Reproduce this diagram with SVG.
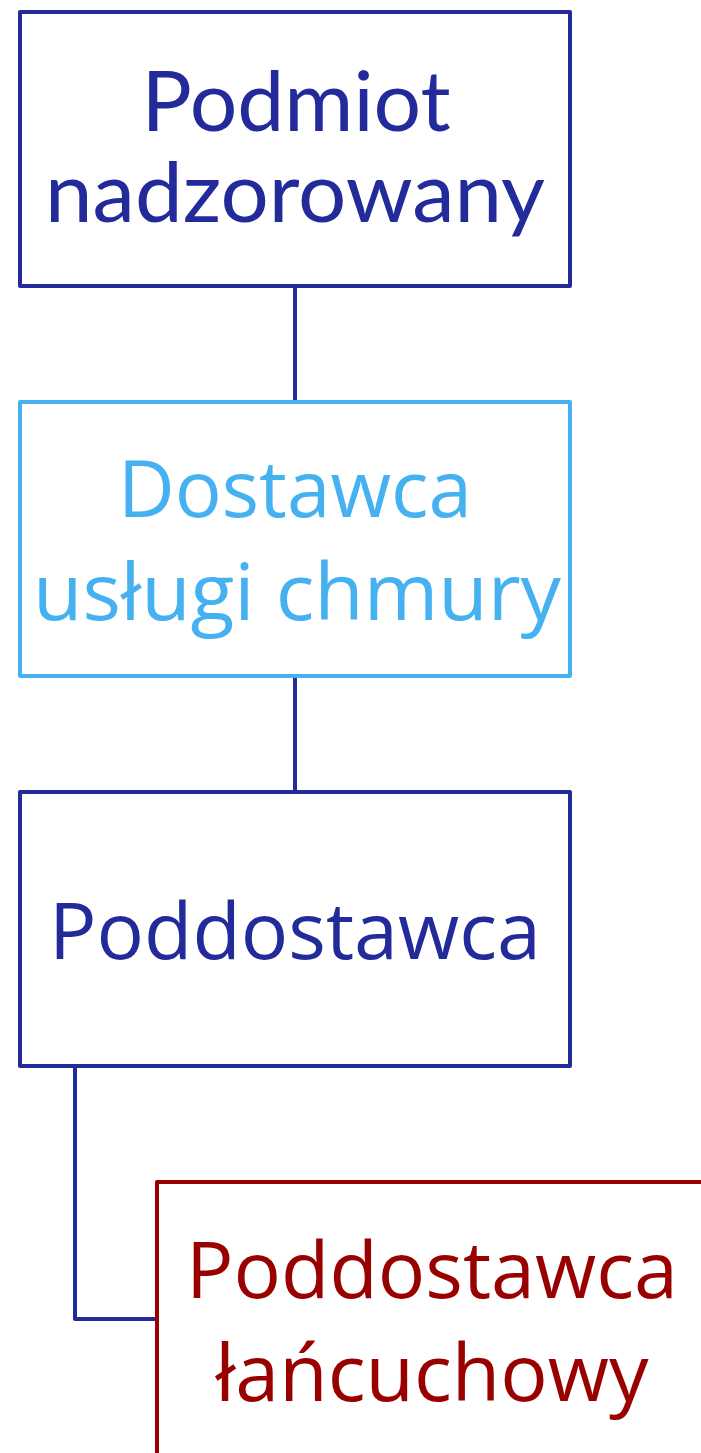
<svg xmlns="http://www.w3.org/2000/svg" width="701" height="1453" viewBox="0 0 701 1453">
<style>
.box{fill:#fff;stroke-width:4;stroke-linejoin:round}
.b1{stroke:#232B9B}
.b2{stroke:#45B1F0}
.b4{stroke:#990000}
.t{text-anchor:middle;font-family:"Open Sans","Noto Sans","DejaVu Sans",sans-serif;font-size:79px}
.lato{font-family:Lato,"Open Sans",sans-serif;font-size:84px}
.conn{fill:none;stroke:#232B9B;stroke-width:4;stroke-linejoin:round}
</style>
<rect width="701" height="1453" fill="#fff"/>
<g id="connectors">
<line class="conn" x1="295" y1="286" x2="295" y2="402"/>
<line class="conn" x1="295" y1="676" x2="295" y2="792"/>
<polyline class="conn" points="75,1066 75,1319 157,1319"/>
</g>
<g id="node-podmiot">
<rect class="box b1" x="20" y="12" width="550" height="274"/>
<text class="t lato" fill="#232B9B" x="296" y="131">Podmiot</text>
<text class="t lato" fill="#232B9B" x="295" y="222" textLength="500" lengthAdjust="spacingAndGlyphs">nadzorowany</text>
</g>
<g id="node-dostawca">
<rect class="box b2" x="20" y="402" width="550" height="274"/>
<text class="t" fill="#45B1F0" x="295" y="517" textLength="354" lengthAdjust="spacingAndGlyphs">Dostawca</text>
<text class="t" fill="#45B1F0" x="297" y="620" textLength="528" lengthAdjust="spacingAndGlyphs">usługi chmury</text>
</g>
<g id="node-poddostawca">
<rect class="box b1" x="20" y="792" width="550" height="274"/>
<text class="t" fill="#232B9B" x="295" y="959">Poddostawca</text>
</g>
<g id="node-lancuchowy">
<rect class="box b4" x="157" y="1182" width="550" height="274"/>
<text class="t" fill="#990000" x="432" y="1298">Poddostawca</text>
<text class="t" fill="#990000" x="432" y="1401">łańcuchowy</text>
</g>
</svg>
